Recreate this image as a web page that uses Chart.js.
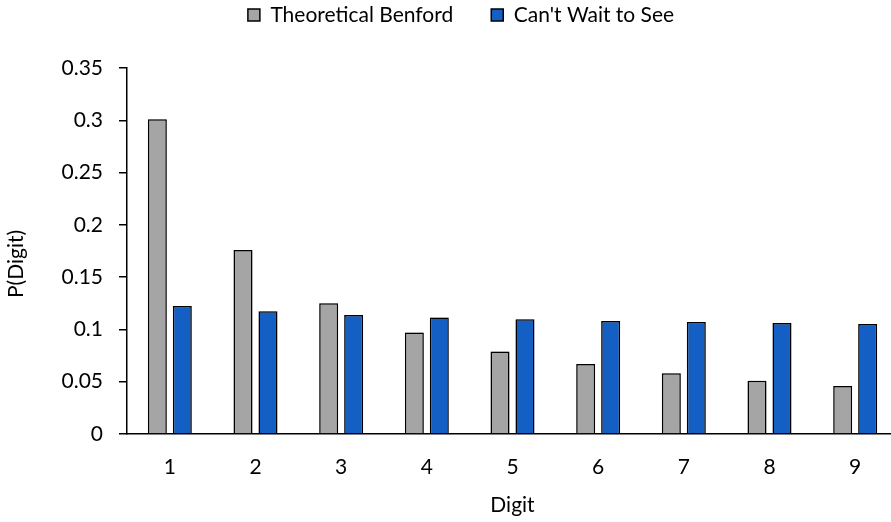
<!DOCTYPE html>
<html>
<head>
<meta charset="utf-8">
<script src="https://cdn.jsdelivr.net/npm/chart.js@4/dist/chart.umd.min.js"></script>
<style>
  html, body { margin: 0; padding: 0; background: #fff; overflow: hidden; }
  #wrap { width: 891px; height: 522px; position: relative; overflow: hidden; }
  #c { display: block; }
</style>
</head>
<body>
<div id="wrap"><canvas id="c" width="898" height="522"></canvas></div>
<script>
// First-digit categories
const digits = ['1', '2', '3', '4', '5', '6', '7', '8', '9'];
// Benford's law: log10(1 + 1/d)
const theoreticalBenford = [0.301, 0.176, 0.125, 0.097, 0.079, 0.067, 0.058, 0.051, 0.046];
// Observed first-digit frequencies
const cantWaitToSee = [0.1224, 0.1174, 0.1138, 0.1113, 0.1097, 0.1081, 0.1071, 0.1062, 0.1052];
// Y axis ticks
const yTicks = [0, 0.05, 0.1, 0.15, 0.2, 0.25, 0.3, 0.35];

const FONT = 'Lato, "Open Sans", sans-serif';
const FS = 21;
const LEGEND_PAD = 38;

// Soft halo around the bars
const barShadow = {
  id: 'barShadow',
  beforeDatasetsDraw(chart) {
    const ctx = chart.ctx;
    ctx.save();
    ctx.shadowColor = 'rgba(0,0,0,0.35)';
    ctx.shadowBlur = 3;
  },
  afterDatasetsDraw(chart) {
    chart.ctx.restore();
  }
};

// Legend: fixed band height, drawn near the top edge;
// y-axis title nudged down a little along the axis.
const placement = {
  id: 'placement',
  beforeUpdate(chart) {
    const lg = chart.legend;
    if (lg && !lg._patched) {
      lg._patched = true;
      const fit = lg.fit;
      lg.fit = function () { fit.call(this); this.height = 68; };
      const draw = lg._draw;
      lg._draw = function () {
        const ctx = this.ctx;
        ctx.save();
        ctx.translate(12, 15 - (LEGEND_PAD + FS / 2));
        draw.call(this);
        ctx.restore();
      };
    }
  },
  beforeDraw(chart) {
    const y = chart.scales.y;
    if (y && !y._patched) {
      y._patched = true;
      const dt = y.drawTitle;
      y.drawTitle = function () {
        const ctx = this.ctx;
        ctx.save();
        ctx.translate(0, 13);
        dt.apply(this, arguments);
        ctx.restore();
      };
    }
  }
};

new Chart(document.getElementById('c'), {
  type: 'bar',
  data: {
    labels: digits,
    datasets: [
      {
        label: 'Theoretical Benford',
        data: theoreticalBenford,
        backgroundColor: '#a5a5a5',
        borderColor: '#000',
        borderWidth: 1.5,
        categoryPercentage: 0.583,
        barPercentage: 0.76
      },
      {
        label: "Can't Wait to See",
        data: cantWaitToSee,
        backgroundColor: '#145fc4',
        borderColor: '#000',
        borderWidth: 1.5,
        categoryPercentage: 0.583,
        barPercentage: 0.76
      }
    ]
  },
  plugins: [barShadow, placement],
  options: {
    responsive: false,
    animation: false,
    devicePixelRatio: 1,
    layout: { padding: 0 },
    plugins: {
      tooltip: { enabled: false },
      legend: {
        position: 'top',
        labels: {
          color: '#000',
          font: { family: FONT, size: FS },
          boxWidth: 12,
          boxHeight: 12,
          padding: LEGEND_PAD
        }
      }
    },
    scales: {
      x: {
        grid: { display: false },
        border: { color: '#000', width: 1.5 },
        ticks: { color: '#000', font: { family: FONT, size: FS }, padding: 13 },
        title: { display: true, text: 'Digit', color: '#000', font: { family: FONT, size: FS }, padding: { top: 8, bottom: 4 } },
        afterFit(scale) { scale.height = 88; }
      },
      y: {
        min: 0,
        max: 0.35,
        afterBuildTicks(scale) { scale.ticks = yTicks.map(v => ({ value: v })); },
        grid: { drawOnChartArea: false, drawTicks: true, tickLength: 8, color: '#000', lineWidth: 1.5 },
        border: { color: '#000', width: 1.5 },
        ticks: {
          color: '#000',
          font: { family: FONT, size: FS },
          padding: 16,
          callback: v => String(+v.toFixed(2))
        },
        title: { display: true, text: 'P(Digit)', color: '#000', font: { family: FONT, size: FS }, padding: { top: 4, bottom: 4 } },
        afterFit(scale) { scale.width = 127; }
      }
    }
  }
});
</script>
</body>
</html>
